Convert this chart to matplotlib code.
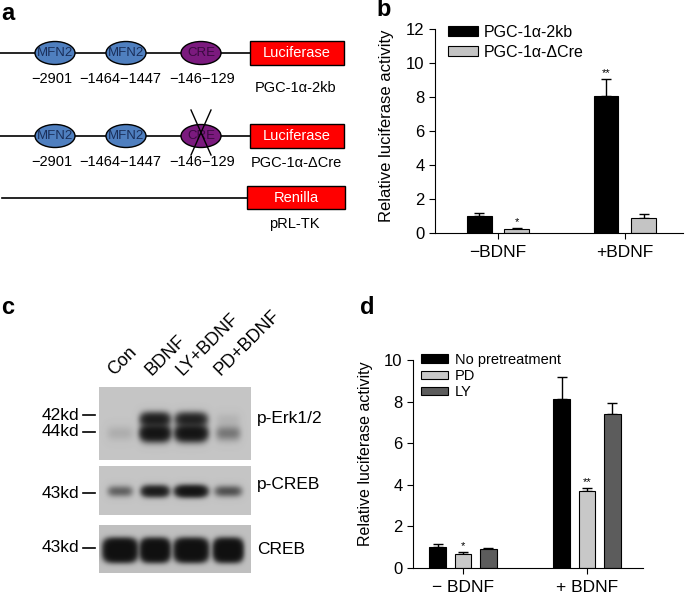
import numpy as np
import matplotlib
matplotlib.use("Agg")
import matplotlib.pyplot as plt
from matplotlib.patches import Ellipse, Rectangle

plt.rcParams['font.family'] = ['Liberation Sans', 'DejaVu Sans']

# ---- data ----
groups_b = ["\u2212BDNF", "+BDNF"]
series_b = ["PGC-1\u03b1-2kb", "PGC-1\u03b1-\u0394Cre"]
vals_b = [[1.02, 8.04], [0.23, 0.88]]
errs_b = [[0.14, 1.02], [0.04, 0.26]]
stars_b = [["", "**"], ["*", ""]]

groups_d = ["\u2212 BDNF", "+ BDNF"]
series_d = ["No pretreatment", "PD", "LY"]
vals_d = [[1.01, 8.13], [0.67, 3.71], [0.90, 7.41]]
errs_d = [[0.14, 1.04], [0.10, 0.16], [0.06, 0.54]]
stars_d = [["", ""], ["*", "**"], ["", ""]]

lanes = ["Con", "BDNF", "LY+BDNF", "PD+BDNF"]
erk44 = [0.06, 1.6, 1.6, 0.25]     # band darkness, lower band
erk42 = [0.0, 1.1, 1.0, 0.04]      # upper band
pcreb = [0.35, 1.2, 1.6, 0.45]
creb = [2.5, 2.5, 2.5, 2.5]

fig = plt.figure(figsize=(6.85, 5.95), dpi=100)

# overlay axes in pixel coordinates for panels a and c
ax0 = fig.add_axes([0, 0, 1, 1])
ax0.axis("off")

for lab, x, y in [("a", 1, 13), ("b", 376, 10), ("c", 1, 307), ("d", 360, 307)]:
    ax0.text(x, y, lab, fontsize=17, fontweight="bold", va="center", ha="left")

# ---- panel a ----
el_x = [55, 126, 201]
el_lab = ["MFN2", "MFN2", "CRE"]
el_col = ["#4f7fbf", "#4f7fbf", "#7b1a7e"]
el_txt = ["#1a2f5a", "#1a2f5a", "#3a0a40"]
pos_lab = ["\u22122901", "\u22121464\u22121447", "\u2212146\u2212129"]
pos_x = [52, 120, 202]

for row_y, name, cross in [(53, "PGC-1\u03b1-2kb", False), (136, "PGC-1\u03b1-\u0394Cre", True)]:
    ax0.plot([0, 250], [row_y, row_y], color="black", lw=1.2, zorder=1)
    for x, lab, c, tc in zip(el_x, el_lab, el_col, el_txt):
        ax0.add_patch(Ellipse((x, row_y), 40, 23, facecolor=c, edgecolor="black", lw=1, zorder=2))
        ax0.text(x, row_y, lab, fontsize=9.5, color=tc, ha="center", va="center", zorder=3)
    for x, lab in zip(pos_x, pos_lab):
        ax0.text(x, row_y + 26, lab, fontsize=10.5, ha="center", va="center")
    ax0.add_patch(Rectangle((250, row_y - 12), 94, 24, facecolor="#ff0000", edgecolor="black", lw=1, zorder=2))
    ax0.text(297, row_y, "Luciferase", color="white", fontsize=10.5, ha="center", va="center", zorder=3)
    ax0.text(296, row_y + 35 if not cross else row_y + 27, name, fontsize=10.5, ha="center", va="center")
    if cross:
        ax0.plot([191, 211], [110, 155], color="black", lw=1, zorder=4)
        ax0.plot([211, 191], [110, 155], color="black", lw=1, zorder=4)

ax0.plot([2, 247], [198, 198], color="black", lw=1.2, zorder=1)
ax0.add_patch(Rectangle((247, 186), 98, 23, facecolor="#ff0000", edgecolor="black", lw=1, zorder=2))
ax0.text(296, 197.5, "Renilla", color="white", fontsize=10.5, ha="center", va="center", zorder=3)
ax0.text(294, 224, "pRL-TK", fontsize=10.5, ha="center", va="center")

# ---- panel c (western blot) ----
lane_x = [120, 155, 191, 228]
blot_x0, blot_x1 = 99, 251


def blot(y0, y1, bands, bg=0.77):
    xs = np.arange(blot_x0, blot_x1, 0.5)
    ys = np.arange(y0, y1, 0.5)
    X, Y = np.meshgrid(xs, ys)
    dark = np.zeros(X.shape)
    for by, hy, py, halfw, inten in bands:
        for lx, w, a in zip(lane_x, halfw, inten):
            dark += a * np.exp(-(np.abs(X - lx) / w) ** 4) * np.exp(-(np.abs(Y - by) / hy) ** py)
    img = bg - (bg - 0.06) * (1 - np.exp(-2.2 * dark))
    ax0.imshow(img, cmap="gray", vmin=0, vmax=1, extent=(blot_x0, blot_x1, y1, y0),
               interpolation="bilinear", zorder=1)


blot(387, 460, [(433, 7, 2, [13, 14, 15, 12], erk44),
                (419, 6, 2, [13, 14, 15, 12], erk42)])
blot(466, 515, [(491, 5, 2, [12, 13, 15, 13], pcreb)])
blot(525, 573, [(550, 10, 3, [15, 13, 15, 13], creb)], bg=0.75)
ax0.set_xlim(0, 685)
ax0.set_ylim(595, 0)
ax0.set_aspect("auto")

for lab, lx in zip(lanes, [117, 154, 185, 223]):
    ax0.text(lx, 379, lab, fontsize=13, rotation=45, ha="left", va="bottom",
             rotation_mode="anchor")

for lab, y in [("42kd", 415), ("44kd", 432), ("43kd", 493), ("43kd", 548)]:
    ax0.text(79, y, lab, fontsize=12.5, ha="right", va="center")
    ax0.plot([83, 95], [y, y], color="black", lw=1.2)

for lab, y in [("p-Erk1/2", 418), ("p-CREB", 485), ("CREB", 549)]:
    ax0.text(257, y, lab, fontsize=12.5, ha="left", va="center")


# ---- bar charts ----
def bar_panel(ax, groups, series, vals, errs, stars, colors, width, offs, ymax, ystep, star_gap):
    x = np.arange(len(groups))
    for i, (name, v, e, s, c) in enumerate(zip(series, vals, errs, stars, colors)):
        xi = x + offs[i]
        ax.bar(xi, v, width, color=c, edgecolor="black", lw=0.8, label=name, zorder=2)
        ax.errorbar(xi, v, yerr=[np.zeros(len(e)), e], fmt="none", ecolor="black",
                    elinewidth=1, capsize=3.5, capthick=1, zorder=1)
        for xx, vv, ee, ss in zip(xi, v, e, s):
            if ss:
                ax.text(xx, vv + ee + star_gap, ss, ha="center", va="bottom", fontsize=8)
    ax.set_ylim(0, ymax)
    ax.set_yticks(np.arange(0, ymax + 0.1, ystep))
    ax.set_xticks(x)
    ax.set_xticklabels(groups, fontsize=12.5)
    ax.spines["top"].set_visible(False)
    ax.spines["right"].set_visible(False)
    ax.tick_params(axis="y", labelsize=12, direction="out", length=4)
    ax.tick_params(axis="x", direction="out", length=4, pad=5)
    ax.patch.set_alpha(0)


ax_b = fig.add_axes([435 / 685, 1 - 233 / 595, (683 - 435) / 685, (233 - 29) / 595])
bar_panel(ax_b, groups_b, series_b, vals_b, errs_b, stars_b, ["black", "#c4c4c4"],
          0.19, [-0.146, 0.146], 12, 2, 0.05)
ax_b.set_xlim(-0.496, 1.457)
ax_b.set_ylabel("Relative luciferase activity", fontsize=12)
ax_b.yaxis.set_label_coords(-0.165, 0.525)
ax_b.legend(loc="upper left", bbox_to_anchor=(0.052, 1.02), frameon=False, fontsize=11.5,
            borderpad=0, borderaxespad=0,
            handlelength=1.9, handleheight=0.6, handletextpad=0.35, labelspacing=0.3)

ax_d = fig.add_axes([413 / 685, 1 - 568 / 595, (643 - 413) / 685, (568 - 360) / 595])
bar_panel(ax_d, groups_d, series_d, vals_d, errs_d, stars_d, ["black", "#c8c8c8", "#5c5c5c"],
          0.133, [-0.205, 0.0, 0.205], 10, 2, 0.04)
ax_d.set_xlim(-0.403, 1.452)
ax_d.set_ylabel("Relative luciferase activity", fontsize=11.5)
ax_d.yaxis.set_label_coords(-0.174, 0.55)
ax_d.legend(loc="upper left", bbox_to_anchor=(0.035, 1.035), frameon=False, fontsize=10.5,
            borderpad=0, borderaxespad=0,
            handlelength=1.85, handleheight=0.5, handletextpad=0.45, labelspacing=0.15)

fig.savefig("out.png", dpi=100)
